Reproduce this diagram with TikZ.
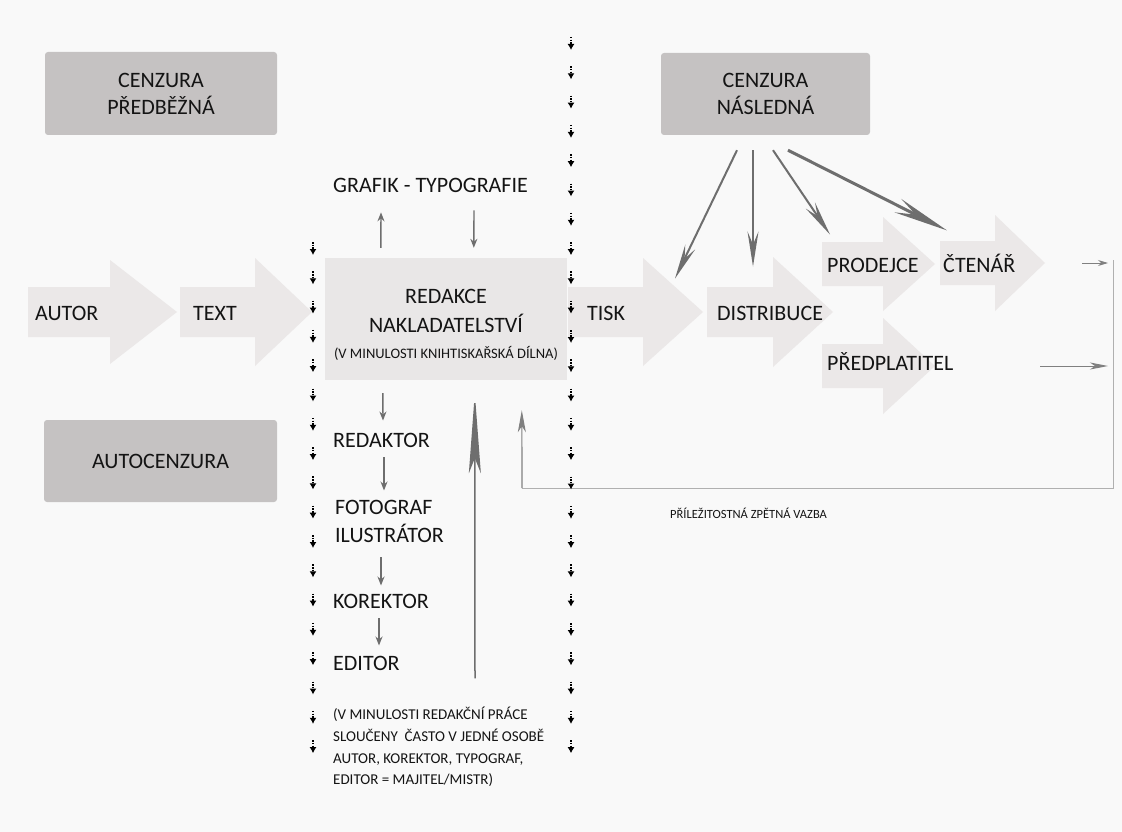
\documentclass[tikz,border=0pt]{standalone}
\usepackage{fontspec}
\setmainfont{Carlito}
\usetikzlibrary{arrows.meta,calc}
\definecolor{bg}{HTML}{F9F9F9}
\definecolor{boxgray}{HTML}{C5C2C2}
\definecolor{lightarr}{HTML}{EBE8E8}
\definecolor{redbox}{HTML}{E9E7E7}
\definecolor{txt}{HTML}{141414}
\definecolor{linegray}{HTML}{6E6E6E}
\definecolor{fbgray}{HTML}{B0B0B0}
\newcommand{\bigarr}[6]{%
  \fill[lightarr] (#1,#4-#5) -- (#2,#4-#5) -- (#2,#4-#6) -- (#3,#4) -- (#2,#4+#6) -- (#2,#4+#5) -- (#1,#4+#5) -- cycle;}
\begin{document}
\begin{tikzpicture}[x=1pt,y=-1pt,
  lab/.style={inner sep=0pt, text=txt, font=\fontsize{22}{26}\selectfont, anchor=base west},
  small/.style={inner sep=0pt, text=txt, font=\fontsize{15}{21.7}\selectfont},
  cbox/.style={fill=boxgray, rounded corners=3pt, inner sep=0pt, text=txt, align=center, font=\fontsize{22}{27}\selectfont},
  gar/.style={draw=linegray, line width=1.4pt, -{Stealth[length=9pt,width=7pt]}},
  car/.style={draw=linegray, line width=2pt, -{Stealth[length=35pt,width=11pt,inset=13pt]}},
  carbig/.style={draw=linegray, line width=3pt, -{Stealth[length=55pt,width=15pt,inset=20pt]}},
  longar/.style={draw=linegray, line width=1.5pt, -{Stealth[length=80pt,width=12pt,inset=15pt]}},
  fbline/.style={draw=fbgray, line width=1pt},
  fbarr/.style={draw=gray, line width=1.2pt, -{Stealth[length=22pt,width=8pt,inset=6pt]}},
  sar/.style={draw=gray, line width=1pt, -{Stealth[length=10pt,width=6pt]}},
  sarl/.style={draw=gray, line width=1pt, -{Stealth[length=18pt,width=7pt,inset=5pt]}},
  dar/.style={draw=black, line width=1.1pt, dash pattern=on 1.5pt off 1.2pt, -{Latex[length=6pt,width=7pt]}},
]
\fill[bg] (0,0) rectangle (1122,832);
\useasboundingbox (0,0) rectangle (1122,832);

% big light arrows
\bigarr{28}{110}{177}{312}{25}{52}
\bigarr{180}{255}{312}{312}{25}{54}
\bigarr{568}{643}{703}{312}{25}{54}
\bigarr{707}{773}{833}{312}{25}{55}
\bigarr{822}{883}{935}{264}{22}{47}
\bigarr{940}{995}{1045}{263}{22}{48}
\bigarr{822}{883}{935}{366}{22}{48}

% boxes
\node[cbox, minimum width=232pt, minimum height=83pt] (cpb) at (161,93.5) {CENZURA\\PŘEDBĚŽNÁ};
\node[cbox, minimum width=233pt, minimum height=82pt] (ac) at (160.5,461) {AUTOCENZURA};
\node[cbox, minimum width=209pt, minimum height=82pt] (cn) at (765.5,94) {CENZURA\\NÁSLEDNÁ};
\node[fill=redbox, minimum width=242pt, minimum height=122pt, inner sep=0pt] (red) at (446,319) {};

% feedback loop
\coordinate (fbtop) at (1113,260);
\coordinate (fbcorner) at (1113,488);
\coordinate (fbleft) at (522,488);
\draw[fbline] (fbtop) -- (fbcorner) -- (fbleft);

% dotted arrow columns
\foreach \i in {0,...,24} \draw[dar] (571,45+29.3*\i-8) -- (571,45+29.3*\i+5);
\foreach \i in {0,...,17} \draw[dar] (313,250+29.3*\i-8) -- (313,250+29.3*\i+5);

% labels
\node[lab] (autor) at (35,320) {AUTOR};
\node[lab] (text) at (193,320) {TEXT};
\node[lab] (tisk) at (587,320) {TISK};
\node[lab] (distr) at (717,320) {DISTRIBUCE};
\node[lab] (prod) at (827,272) {PRODEJCE};
\node[lab] (cten) at (943,272) {ČTENÁŘ};
\node[lab] (pred) at (827,370) {PŘEDPLATITEL};
\node[lab] (grafik) at (333,192) {GRAFIK - TYPOGRAFIE};
\node[lab, anchor=base] (red1) at (446,303) {REDAKCE};
\node[lab, anchor=base] (red2) at (446,332) {NAKLADATELSTVÍ};
\node[inner sep=0pt, text=txt, font=\fontsize{14.5}{17}\selectfont, anchor=base] (red3) at (446,358) {(V MINULOSTI KNIHTISKAŘSKÁ DÍLNA)};
\node[lab] (redaktor) at (333,447) {REDAKTOR};
\node[lab, anchor=north west, align=left, font=\fontsize{22}{28}\selectfont] (foto) at (335,500.5) {FOTOGRAF\\ILUSTRÁTOR};
\node[lab] (korektor) at (333,608) {KOREKTOR};
\node[lab] (editor) at (333,670) {EDITOR};
\node[small, anchor=north west, align=left] (note) at (333,707) {(V MINULOSTI REDAKČNÍ PRÁCE\\SLOUČENY~ ČASTO V JEDNÉ OSOBĚ\\AUTOR, KOREKTOR, TYPOGRAF,\\EDITOR = MAJITEL/MISTR)};
\node[inner sep=0pt, text=txt, font=\fontsize{12.5}{15}\selectfont, anchor=base west] (fbl) at (670,518) {PŘÍLEŽITOSTNÁ ZPĚTNÁ VAZBA};

% editorial chain arrows
\draw[gar] ($(red.north west)+(56,-10)$) -- ($(grafik.south west)+(48,20)$);
\draw[gar] ($(grafik.south west)+(141,18)$) -- ($(red.north west)+(149,-10)$);
\draw[gar] ($(red.south west)+(58,13)$) -- ($(redaktor.north west)+(50,-12)$);
\draw[gar] ($(redaktor.south west)+(51,10)$) -- ($(foto.north west)+(49,-10)$);
\draw[gar] ($(foto.south west)+(46,14)$) -- ($(korektor.north west)+(48,-8)$);
\draw[gar] ($(korektor.south west)+(46,10)$) -- ($(editor.north west)+(46,-10)$);
\draw[longar] ($(editor.south west)+(142,8)$) -- ($(red.south west)+(150,13)$);

% feedback arrows
\draw[fbarr] (fbleft) -- ($(red.south west)+(197,30)$);
\coordinate (c1) at (1082,263);
\coordinate (p1) at (1040,366);
\draw[sar] (c1) -- ($(fbtop |- c1)+(-5,0)$);
\draw[sarl] (p1) -- ($(fbtop |- p1)+(-5,0)$);

% censorship arrows
\draw[car] ($(cn.south)+(-28.5,15)$) -- ($(tisk.north west)+(88,-27)$);
\draw[car] ($(cn.south)+(-12.5,15)$) -- ($(distr.north west)+(36,-39)$);
\draw[car] ($(cn.south)+(7.5,15)$) -- ($(prod.north west)+(3,-23)$);
\draw[carbig] ($(cn.south)+(22.5,15)$) -- ($(cten.north west)+(4,-23)$);
\end{tikzpicture}
\end{document}
